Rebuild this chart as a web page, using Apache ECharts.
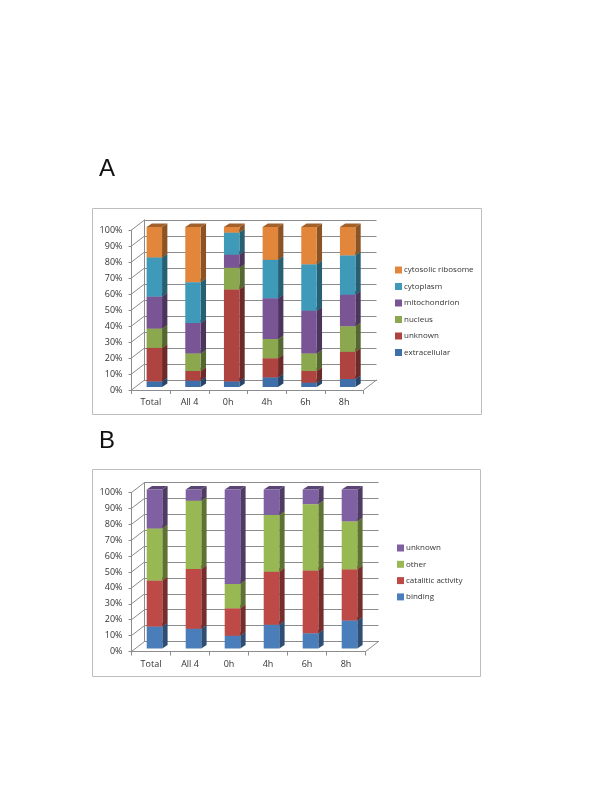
<!DOCTYPE html>
<html>
<head>
<meta charset="utf-8">
<title>Stacked columns A and B</title>
<script src="https://cdn.jsdelivr.net/npm/echarts@6/dist/echarts.min.js"></script>
<style>
  html,body{margin:0;padding:0;background:#fff;}
  #main{width:600px;height:788px;}
</style>
</head>
<body>
<div id="main"></div>
<script>
  // data (height of each segment, in %)
  var categories=['Total','All 4','0h','4h','6h','8h'];
  var yTicks=[0,10,20,30,40,50,60,70,80,90,100];

  var namesA=['extracellular','unknown','nucleus','mitochondrion','cytoplasm','cytosolic ribosome'];
  var extracellularA=[3.5,4,3.5,6,2.7,5];
  var unknownA=[20.9,6,57.5,12,7.3,17];
  var nucleusA=[12.1,11,13.5,12,11,16];
  var mitochondrionA=[20,19,8.2,25.5,26.7,19.7];
  var cytoplasmA=[24.5,25.5,13.8,24,29,24.6];
  var ribosomeA=[19,34.5,3.5,20.5,23.3,17.7];
  var colorsA=['#3f6fa8','#ae4340','#8ba84f','#795595','#3f9ab9','#e1863a'];

  var namesB=['binding','catalitic activity','other','unknown'];
  var bindingB=[13.8,12.5,8,15,9.6,17.6];
  var cataliticB=[28.9,37.5,17.3,33.3,39.4,32.2];
  var otherB=[32.8,43,15.3,35.7,41.8,30.2];
  var unknownB=[24.5,7,59.4,16,9.2,20];
  var colorsB=['#4a7ebb','#bd4a47','#97b853','#7f60a2'];

  var FONT='"Open Sans","Noto Sans",sans-serif';
  var WALL_DX=13, WALL_DY=10;   // depth of the back wall
  var BAR_DX=3.5, BAR_DY=3;     // bar sits a little behind the front axis
  var SIDE_DX=5.3, SIDE_DY=3.6; // depth of a bar
  var LINE='#8c8c8c';

  function shade(hex,k){
    var n=parseInt(hex.slice(1),16);
    var r=Math.round((n>>16&255)*k),g=Math.round((n>>8&255)*k),b=Math.round((n&255)*k);
    return 'rgb('+r+','+g+','+b+')';
  }

  // one 3d bar piece: front, side and top faces
  function renderBar(params,api){
    var low=api.coord([api.value(0),api.value(1)]);
    var high=api.coord([api.value(0),api.value(2)]);
    var w=api.size([1,0])[0]*0.4;
    var color=api.visual('color');
    var x0=low[0]-w/2+BAR_DX, x1=x0+w;
    var y0=low[1]-BAR_DY, y1=high[1]-BAR_DY;
    return {type:'group',children:[
      {type:'polygon',shape:{points:[[x1,y0],[x1+SIDE_DX,y0-SIDE_DY],[x1+SIDE_DX,y1-SIDE_DY],[x1,y1]]},style:{fill:shade(color,0.62)}},
      {type:'polygon',shape:{points:[[x0,y1],[x0+SIDE_DX,y1-SIDE_DY],[x1+SIDE_DX,y1-SIDE_DY],[x1,y1]]},style:{fill:shade(color,0.72)}},
      {type:'rect',shape:{x:x0,y:y1,width:w,height:y0-y1},style:{fill:color}}
    ]};
  }

  // slanted lines from the front axis to the back wall
  function renderSlant(params,api){
    var p=api.coord([0,api.value(0)]);
    var band=api.size([1,0])[0];
    var left=p[0]-band/2;
    var kids=[{type:'line',shape:{x1:left,y1:p[1],x2:left+WALL_DX,y2:p[1]-WALL_DY},style:{stroke:LINE,lineWidth:1}}];
    if(api.value(0)===0){
      var right=left+band*categories.length;
      kids.push({type:'line',shape:{x1:right,y1:p[1],x2:right+WALL_DX,y2:p[1]-WALL_DY},style:{stroke:LINE,lineWidth:1}});
    }
    return {type:'group',children:kids};
  }

  var option={
    animation:false,
    backgroundColor:'#fff',
    textStyle:{fontFamily:FONT},
    title:[
      {text:'A',left:94,top:152,textStyle:{fontFamily:'"Liberation Sans",sans-serif',fontSize:24,fontWeight:'normal',color:'#111'}},
      {text:'B',left:94,top:424,textStyle:{fontFamily:'"Liberation Sans",sans-serif',fontSize:24,fontWeight:'normal',color:'#111'}}
    ],
    graphic:[
      {type:'rect',silent:true,z:-10,shape:{x:92.5,y:208.5,width:389,height:206},style:{fill:'#fff',stroke:'#bdbdbd',lineWidth:1}},
      {type:'rect',silent:true,z:-10,shape:{x:92.5,y:469.5,width:388,height:207},style:{fill:'#fff',stroke:'#bdbdbd',lineWidth:1}}
    ],
    legend:[],
    grid:[],
    xAxis:[],
    yAxis:[],
    series:[]
  };

  function addPanel(box,names,rows,colors,legendBox){
    var front=option.grid.length;
    var back=front+1;
    option.grid.push({left:box.left,top:box.top,width:box.width,height:box.height});
    option.grid.push({left:box.left+WALL_DX,top:box.top-WALL_DY,width:box.width,height:box.height});

    option.xAxis.push({
      type:'category',gridIndex:front,data:categories,
      axisLine:{lineStyle:{color:LINE}},
      axisTick:{show:true,alignWithLabel:false,length:4,lineStyle:{color:LINE}},
      axisLabel:{interval:0,fontSize:9,color:'#333',margin:8,fontFamily:FONT},
      z:5
    });
    option.yAxis.push({
      type:'value',gridIndex:front,min:0,max:100,interval:10,
      axisLine:{show:true,lineStyle:{color:LINE}},
      axisTick:{show:true,length:3,lineStyle:{color:LINE}},
      axisLabel:{fontSize:9,color:'#333',margin:9,fontFamily:FONT,formatter:'{value}%'},
      splitLine:{show:false},
      z:5
    });
    // back wall, only gridlines
    option.xAxis.push({
      type:'category',gridIndex:back,data:categories,
      axisLine:{show:true,lineStyle:{color:LINE}},axisTick:{show:false},axisLabel:{show:false}
    });
    option.yAxis.push({
      type:'value',gridIndex:back,min:0,max:100,interval:10,
      axisLine:{show:true,lineStyle:{color:LINE}},axisTick:{show:false},axisLabel:{show:false},
      splitLine:{show:true,lineStyle:{color:LINE,width:1}}
    });

    option.series.push({
      type:'custom',name:'wall',xAxisIndex:front,yAxisIndex:front,z:1,silent:true,
      renderItem:renderSlant,data:yTicks.map(function(t){return [t];}),
      encode:{y:0}
    });

    var base=categories.map(function(){return 0;});
    rows.forEach(function(row,s){
      var data=row.map(function(v,i){
        var d=[i,base[i],base[i]+v];
        base[i]+=v;
        return d;
      });
      option.series.push({
        type:'custom',name:names[s],xAxisIndex:front,yAxisIndex:front,z:3,
        itemStyle:{color:colors[s]},
        renderItem:renderBar,data:data,encode:{x:0,y:[1,2]}
      });
    });

    option.legend.push({
      orient:'vertical',left:legendBox.left,top:legendBox.top,
      selectedMode:false,icon:'rect',itemWidth:7,itemHeight:7,itemGap:legendBox.gap,
      textStyle:{fontSize:8,color:'#333',fontFamily:FONT,padding:[0,0,0,-3]},
      data:names.map(function(n,i){return {name:n,itemStyle:{color:colors[i]}};}).reverse()
    });
  }

  addPanel({left:131.5,top:230,width:232,height:160},namesA,
    [extracellularA,unknownA,nucleusA,mitochondrionA,cytoplasmA,ribosomeA],colorsA,
    {left:390,top:261,gap:8.5});
  addPanel({left:131.5,top:492.5,width:234,height:159},namesB,
    [bindingB,cataliticB,otherB,unknownB],colorsB,
    {left:392,top:539,gap:8.3});

  var myChart=echarts.init(document.getElementById('main'));
  myChart.setOption(option);
</script>
</body>
</html>
